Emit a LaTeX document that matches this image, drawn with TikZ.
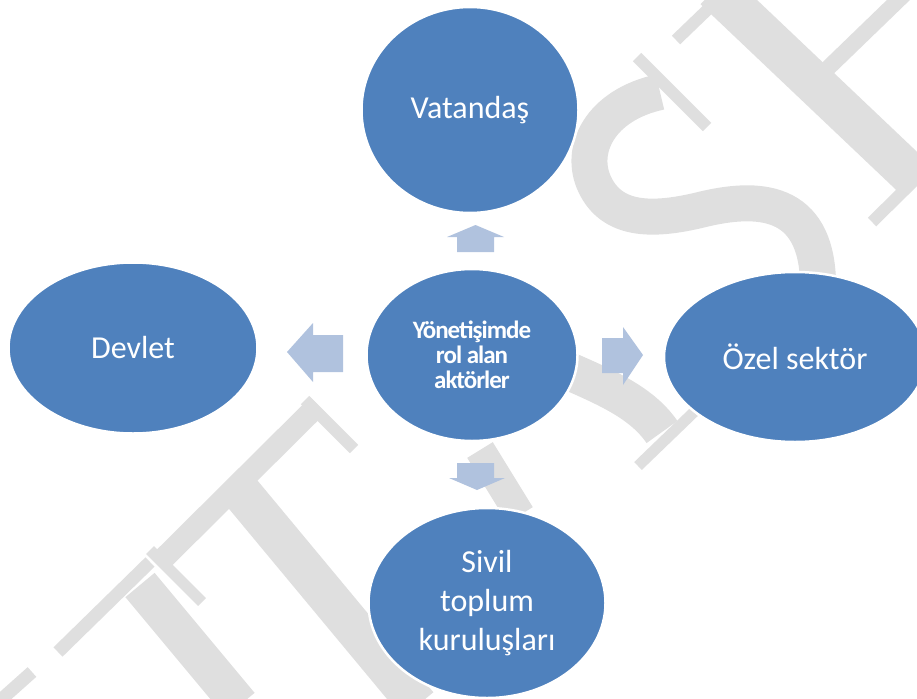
\documentclass[tikz,border=0pt]{standalone}
\usepackage{fontspec}
\setmainfont{Carlito}
\usetikzlibrary{shapes.geometric}
\definecolor{ballblue}{RGB}{79,129,189}
\definecolor{arrowblue}{RGB}{176,194,222}
\definecolor{wmgray}{RGB}{223,223,223}

\begin{document}
\begin{tikzpicture}[x=1pt,y=-1pt,
  actor/.style={ellipse,draw=white,line width=2.5pt,fill=ballblue,inner sep=0pt,text=white,align=center,font=\fontsize{32}{39}\selectfont},
  blockarrow/.style={fill=arrowblue},
  wm/.style={draw=wmgray,line cap=butt}]
\clip (0,0) rectangle (917,698);
% watermark letters in the back
\draw[wm,line width=38pt] (140,585) -- (240,705);
\draw[wm,line width=13pt] (58,652) -- (150,562);
\draw[wm,line width=13pt] (-5,705) -- (32,672);
\draw[wm,line width=22pt] (161,561) -- (318,405);
\draw[wm,line width=11pt] (150,550) -- (202,602);
\draw[wm,line width=12pt] (305,400) -- (354,449);
\draw[wm,line width=40pt] (241,492) -- (418,705);
\draw[wm,line width=30pt] (480,450) -- (520,515);
\draw[wm,line width=12pt] (637,57) -- (707,127);
\draw[wm,line width=36pt] (660,92) .. controls (600,105) and (578,150) .. (595,185)
  .. controls (612,220) and (650,222) .. (700,210)
  .. controls (760,195) and (815,200) .. (818,280);
\draw[wm,line width=38pt] (555,365) .. controls (600,385) and (640,400) .. (662,432);
\draw[wm,line width=11pt] (638,466) -- (694,412);
\draw[wm,line width=42pt] (715,-11) -- (912,176);
\draw[wm,line width=12pt] (872,222) -- (935,160);
\draw[wm,line width=12pt] (676,40) -- (730,-12);
\draw[wm,line width=16pt] (826,70) -- (917,-18);
% actors
\node[actor,minimum width=217pt,minimum height=206pt] (vat) at (470,110) {Vatandaş};
\node[actor,minimum width=249pt,minimum height=171pt] (dev) at (133,348) {Devlet};
\node[actor,minimum width=262pt,minimum height=170pt] (ozel) at (795,357) {Özel sektör};
\node[actor,minimum width=237pt,minimum height=190pt] (stk) at (487,603) {Sivil\\toplum\\kuruluşları};
\node[actor,minimum width=211pt,minimum height=172pt,font=\fontsize{25}{25}\selectfont\bfseries\addfontfeature{LetterSpace=-4}] (mid) at (472,355) {Yönetişimde\\rol alan\\aktörler};
% block arrows round the middle
\fill[blockarrow] (457,252) -- (457,237) -- (447,237) -- (475.5,225) -- (504,237) -- (494,237) -- (494,252) -- cycle;
\fill[blockarrow] (457,463) -- (457,478) -- (449,478) -- (477,490) -- (505,478) -- (494,478) -- (494,463) -- cycle;
\fill[blockarrow] (343,335) -- (313,335) -- (313,323) -- (287,352) -- (313,382) -- (313,372) -- (343,372) -- cycle;
\fill[blockarrow] (602,338) -- (623,338) -- (623,327) -- (643,355) -- (623,385) -- (623,373) -- (602,373) -- cycle;
\end{tikzpicture}
\end{document}
